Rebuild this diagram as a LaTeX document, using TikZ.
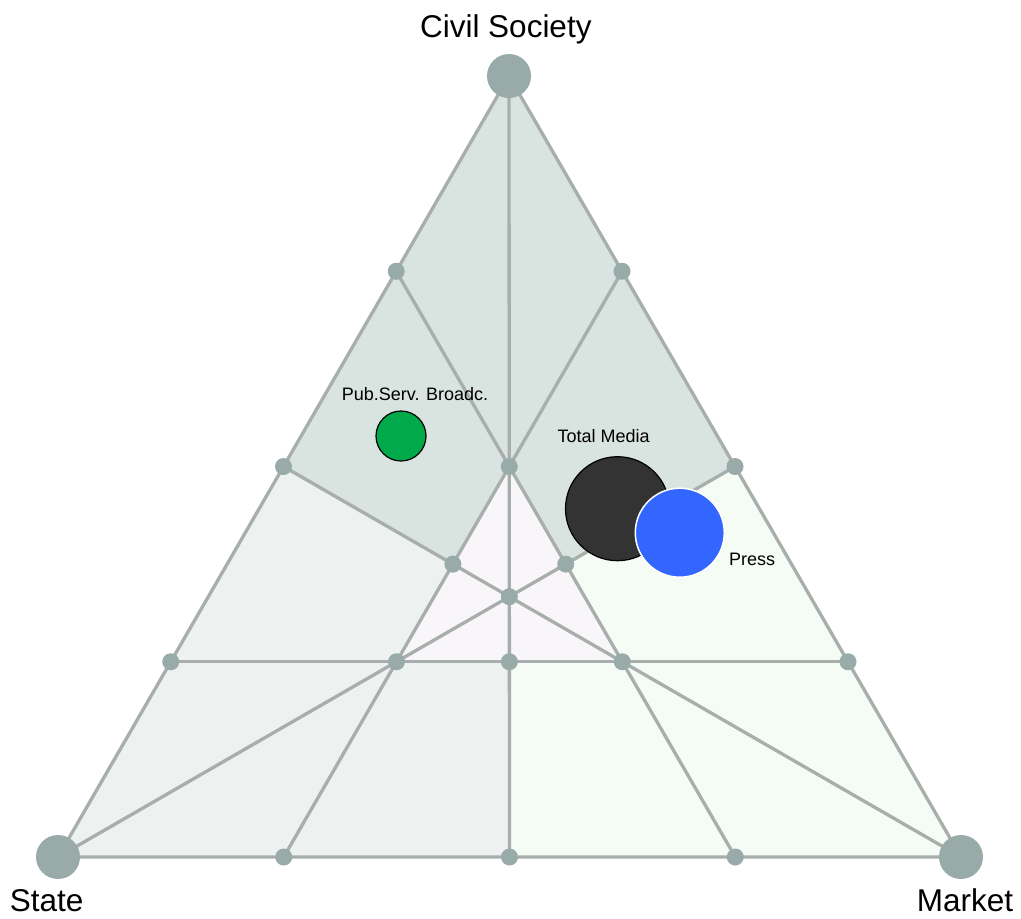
\documentclass[tikz,border=0pt]{standalone}
\usepackage{fontspec}
\setmainfont{Liberation Sans}
\usetikzlibrary{calc}
\definecolor{linec}{HTML}{A8AEAC}
\definecolor{dotc}{HTML}{98ABA9}
\definecolor{topreg}{HTML}{D9E3E0}
\definecolor{leftreg}{HTML}{EDF1F0}
\definecolor{rightreg}{HTML}{F5FBF5}
\definecolor{innerreg}{HTML}{F9F6F9}
\definecolor{psbc}{HTML}{00AA4A}
\definecolor{totalc}{HTML}{333333}
\definecolor{pressc}{HTML}{3366FF}
\begin{document}
\begin{tikzpicture}[x=1pt,y=-1pt,
  gridline/.style={draw=linec, line width=3.3pt, line join=round},
  smalldot/.style={circle, fill=dotc, minimum size=17pt, inner sep=0pt},
  bigdot/.style={circle, fill=dotc, minimum size=44pt, inner sep=0pt},
  biglabel/.style={inner sep=0pt, anchor=base, font=\fontsize{31.5}{36}\selectfont},
  smalllabel/.style={inner sep=0pt, anchor=base, font=\fontsize{18}{21}\selectfont}]
\useasboundingbox (0,0) rectangle (1021,919);
% vertices
\coordinate (T) at (509,76);
\coordinate (L) at (58,857);
\coordinate (R) at (961,857);
% edge points
\coordinate (l1) at ($(T)!0.25!(L)$);
\coordinate (l2) at ($(T)!0.5!(L)$);
\coordinate (l3) at ($(T)!0.75!(L)$);
\coordinate (r1) at ($(T)!0.25!(R)$);
\coordinate (r2) at ($(T)!0.5!(R)$);
\coordinate (r3) at ($(T)!0.75!(R)$);
\coordinate (b1) at ($(L)!0.25!(R)$);
\coordinate (b2) at ($(L)!0.5!(R)$);
\coordinate (b3) at ($(L)!0.75!(R)$);
% interior points
\coordinate (m1) at ($(T)!0.5!(b2)$);
\coordinate (p1) at ($(l3)!0.333333!(r3)$);
\coordinate (p2) at ($(l3)!0.666667!(r3)$);
\coordinate (p3) at ($(l3)!0.5!(r3)$);
\coordinate (q1) at ($(m1)!0.5!(p1)$);
\coordinate (q2) at ($(m1)!0.5!(p2)$);
\coordinate (c) at ($(T)!0.666667!(b2)$);
% regions
\fill[topreg] (T) -- (l2) -- (q1) -- (m1) -- (q2) -- (r2) -- cycle;
\fill[leftreg] (l2) -- (L) -- (b2) -- (p3) -- (p1) -- (q1) -- cycle;
\fill[rightreg] (r2) -- (R) -- (b2) -- (p3) -- (p2) -- (q2) -- cycle;
\fill[innerreg] (m1) -- (p1) -- (p2) -- cycle;
% lines
\draw[gridline] (T) -- (L) -- (R) -- cycle;
\draw[gridline] (T) -- (b2);
\draw[gridline] (l1) -- (b3);
\draw[gridline] (r1) -- (b1);
\draw[gridline] (l3) -- (r3);
\draw[gridline] (l2) -- (R);
\draw[gridline] (r2) -- (L);
% dots
\foreach \p in {l1,l2,l3,r1,r2,r3,b1,b2,b3,m1,p1,p2,p3,q1,q2,c}
  \node[smalldot] (dot-\p) at (\p) {};
\node[bigdot] (dotT) at (T) {};
\node[bigdot] (dotL) at (L) {};
\node[bigdot] (dotR) at (R) {};
% data circles
\node[circle, fill=psbc, draw=black, line width=1.2pt, minimum size=50pt, inner sep=0pt] (psb) at (401,436) {};
\node[circle, fill=totalc, draw=black, line width=1.2pt, minimum size=104pt, inner sep=0pt] (total) at (617.5,508.7) {};
\node[circle, fill=pressc, draw=white, line width=1.5pt, minimum size=89pt, inner sep=0pt] (press) at (679.8,532.7) {};
% labels
\node[smalllabel] (psblab) at (415,400) {Pub.Serv. Broadc.};
\node[smalllabel] (totallab) at (603.7,442.7) {Total Media};
\node[smalllabel] (presslab) at (752,565) {Press};
\node[biglabel] (civlab) at (505.8,37.3) {Civil Society};
\node[biglabel] (statelab) at (46.7,911.5) {State};
\node[biglabel] (marketlab) at (965,911.5) {Market};
\end{tikzpicture}
\end{document}
